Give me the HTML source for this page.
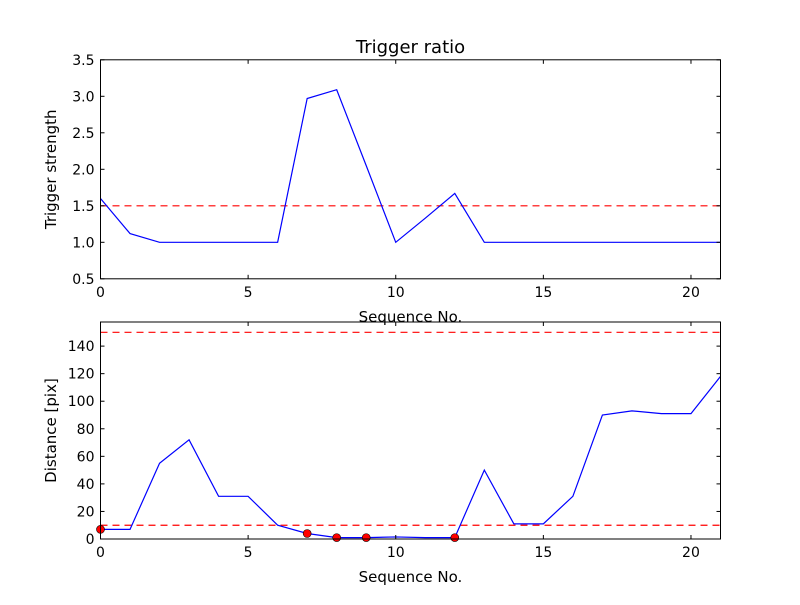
<!DOCTYPE html>
<html><head><meta charset="utf-8"><style>
body{margin:0;background:#fff}
svg{font-family:"DejaVu Sans","Liberation Sans",sans-serif}
</style></head><body>
<svg id="c" width="800" height="600"></svg>
<script>
const xs = [0,1,2,3,4,5,6,7,8,9,10,11,12,13,14,15,16,17,18,19,20,21];
const strength = [1.6,1.12,1.0,1.0,1.0,1.0,1.0,2.97,3.09,2.05,1.0,1.33,1.67,1.0,1.0,1.0,1.0,1.0,1.0,1.0,1.0,1.0];
const distance = [7,7,55,72,31,31,10,4,1,1,1.5,1,1,50,11,11,31,90,93,91,91,118];
const markIdx = [0,7,8,9,12];
const xTicks = [0,5,10,15,20];
const yTicksTop = [0.5,1.0,1.5,2.0,2.5,3.0,3.5];
const yTicksBot = [0,20,40,60,80,100,120,140];
const thrTop = [1.5];
const thrBot = [10,150];

const svg = document.getElementById('c');
const NS = 'http://www.w3.org/2000/svg';
function mk(tag, attrs, parent){const e=document.createElementNS(NS,tag);for(const k in attrs)e.setAttribute(k,attrs[k]);(parent||svg).appendChild(e);return e;}
const L=100.5,R=720.5;
const sx=v=>L+(R-L)*v/21;

function panel(name,top,bot,ymin,ymax,yt,fmt,vals,thr,ylab,marks){
  const sy=v=>bot-(bot-top)*(v-ymin)/(ymax-ymin);
  const g=mk('g',{});  
  thr.forEach(t=>{const l=mk('line',{x1:L,x2:R,y1:sy(t),y2:sy(t),stroke:'#ff0000','stroke-width':1.2,'stroke-dasharray':'7,5'},g);
    });
  const p=mk('polyline',{points:vals.map((v,i)=>sx(xs[i])+','+sy(v)).join(' '),fill:'none',stroke:'#0000ff','stroke-width':1.2},g);
  
  if(marks)marks.forEach(i=>{const c=mk('circle',{cx:sx(xs[i]),cy:sy(vals[i]),r:4,fill:'#ff0000',stroke:'#000','stroke-width':0.6},g);
    });
  const f=mk('rect',{x:L,y:top,width:R-L,height:bot-top,fill:'none',stroke:'#000','stroke-width':1},g);
  
  xTicks.forEach(t=>{const x=sx(t);
    mk('line',{x1:x,x2:x,y1:bot,y2:bot-4,stroke:'#000'},g);mk('line',{x1:x,x2:x,y1:top,y2:top+4,stroke:'#000'},g);
    const tx=mk('text',{x:x,y:bot+18,'text-anchor':'middle','font-size':14},g);tx.textContent=t;
    });
  yt.forEach(t=>{const y=sy(t);
    mk('line',{x1:L,x2:L+4,y1:y,y2:y,stroke:'#000'},g);mk('line',{x1:R,x2:R-4,y1:y,y2:y,stroke:'#000'},g);
    const tx=mk('text',{x:L-6,y:y+5,'text-anchor':'end','font-size':14},g);tx.textContent=fmt(t);
    });
  const xl=mk('text',{x:(L+R)/2,y:bot+43,'text-anchor':'middle','font-size':15},g);xl.textContent='Sequence No.';
  
  const cy=(top+bot)/2;
  const yl=mk('text',{x:56,y:cy,'text-anchor':'middle','font-size':15,transform:'rotate(-90 56 '+cy+')'},g);yl.textContent=ylab;
  
}
panel('top-panel',59.8,278.8,0.5,3.5,yTicksTop,v=>v.toFixed(1),strength,thrTop,'Trigger strength',null);
panel('bottom-panel',322,539,0,157.5,yTicksBot,v=>String(v),distance,thrBot,'Distance [pix]',markIdx);
const ti=mk('text',{x:(L+R)/2,y:53,'text-anchor':'middle','font-size':18});ti.textContent='Trigger ratio';


</script>
</body></html>
